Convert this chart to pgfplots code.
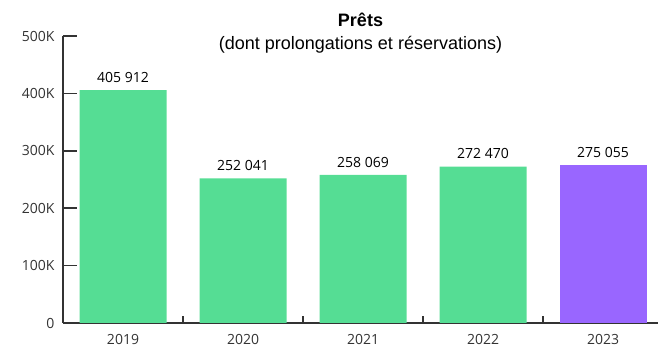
\documentclass[border=0pt]{standalone}
\usepackage{fontspec}
\setmainfont{Open Sans}
\newfontfamily\titlefont{Liberation Sans}
\usepackage{pgfplots}
\pgfplotsset{compat=1.18}
\definecolor{barg}{RGB}{85,221,148}
\definecolor{barp}{RGB}{153,102,255}
\definecolor{axc}{RGB}{51,51,51}
\begin{document}
\begin{tikzpicture}
\begin{axis}[
 at={(0,0)}, anchor=south west,
 scale only axis, width=595pt, height=287pt,
 xmin=-0.5, xmax=4.458, ymin=0, ymax=500000,
 axis x line=bottom, axis y line=left,
 axis line style={axc, line width=1.5pt, -},
 every outer x axis line/.append style={-},
 every outer y axis line/.append style={-},
 ybar, bar width=0.725,
 xtick={0,1,2,3,4}, xticklabels={2019,2020,2021,2022,2023},
 minor xtick={0.5,1.5,2.5,3.5},
 ytick={0,100000,200000,300000,400000,500000},
 yticklabels={0,100K,200K,300K,400K,500K},
 xtick align=inside, ytick align=inside,
 major tick length=14pt, minor tick length=7pt,
 major x tick style={draw=none},
 minor x tick style={draw=axc, line width=1.2pt},
 major y tick style={draw=axc, line width=1.5pt},
 tick label style={font=\fontsize{14}{16}\selectfont, text=axc},
 xticklabel style={yshift=-8pt},
 yticklabel style={xshift=-5pt},
 /pgf/number format/assume math mode=true,
 scaled y ticks=false,
 nodes near coords, point meta=explicit symbolic,
 nodes near coords style={font=\fontsize{14}{16}\selectfont, anchor=south, yshift=4pt, text=black},
 clip=false,
]
\addplot[fill=barg, draw=none, bar shift=0pt] coordinates {(0,405912)[405 912] (1,252041)[252 041] (2,258069)[258 069] (3,272470)[272 470]};
\addplot[fill=barp, draw=none, bar shift=0pt] coordinates {(4,275055)[275 055]};
\end{axis}
\node[font=\titlefont\bfseries\fontsize{18}{20}\selectfont] at (297.5pt,303pt) {Prêts};
\node[font=\titlefont\fontsize{18}{20}\selectfont] at (297.5pt,278pt) {(dont prolongations et réservations)};
\pgfresetboundingbox
\path[use as bounding box] (-63pt,-30pt) rectangle (595pt,323pt);
\end{tikzpicture}
\end{document}
